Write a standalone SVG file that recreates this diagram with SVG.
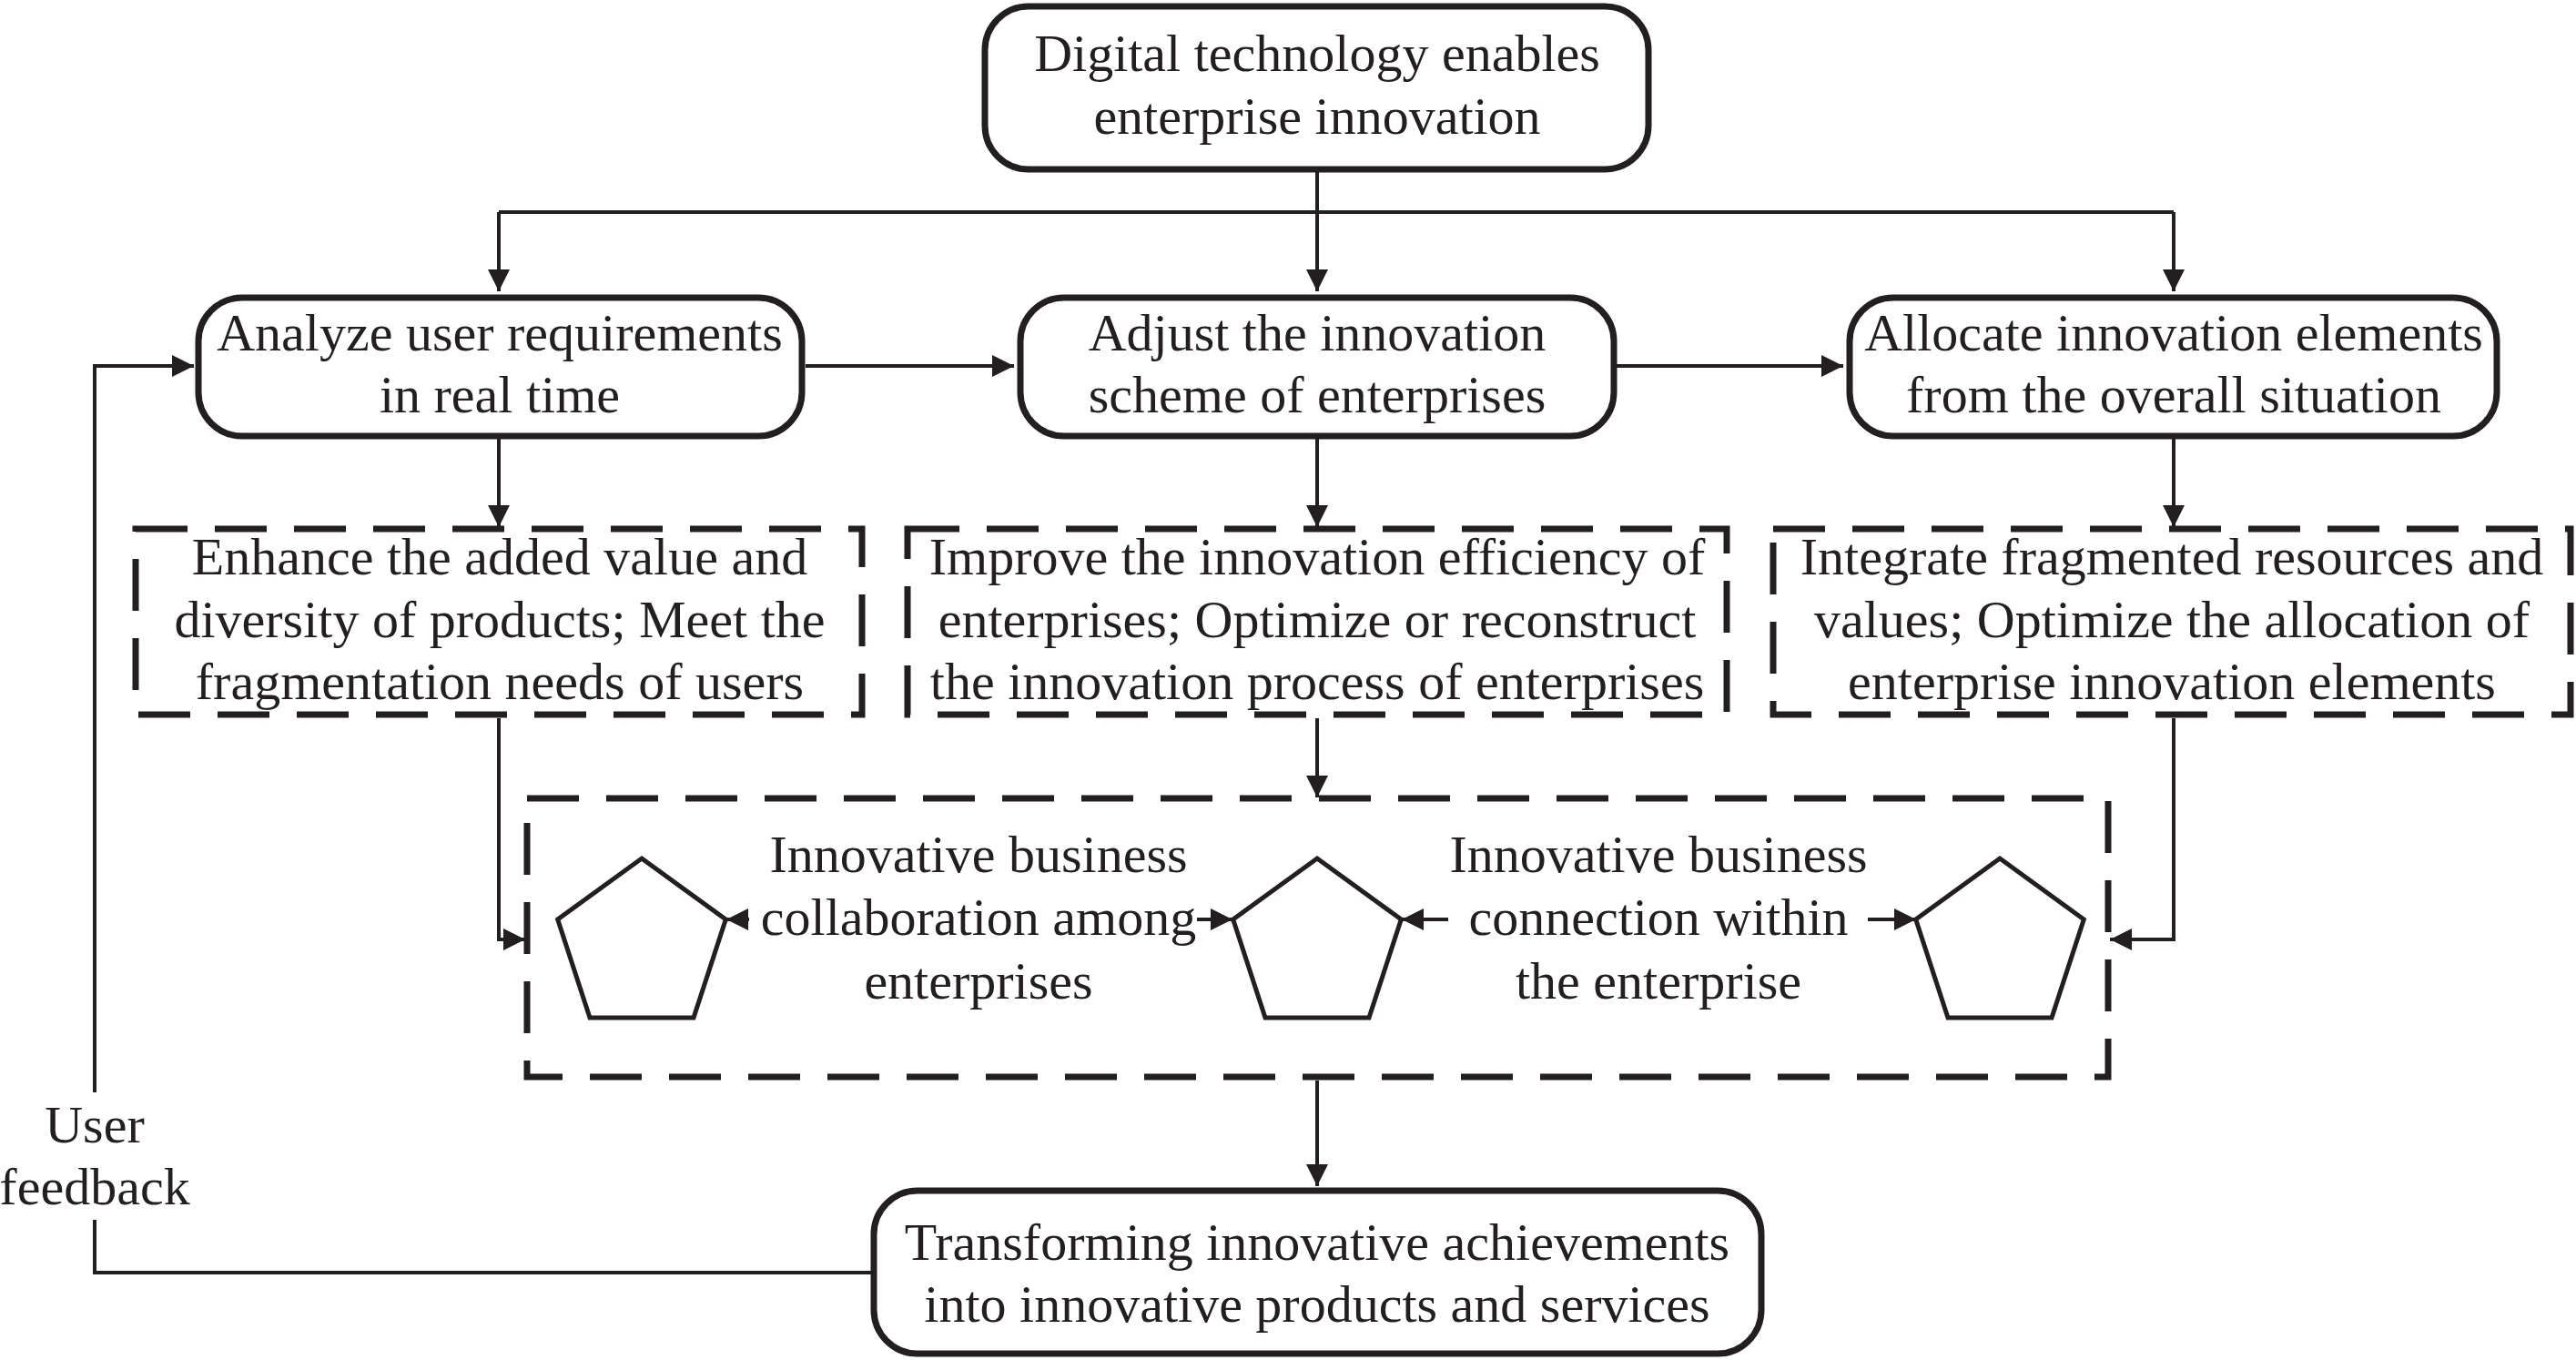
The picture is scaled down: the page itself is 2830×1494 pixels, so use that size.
<svg xmlns="http://www.w3.org/2000/svg" width="2830" height="1494" viewBox="0 0 2830 1494">
<style>
.box{fill:#fff;stroke:#231f20;stroke-width:7}
.dash{fill:none;stroke:#231f20;stroke-width:7;stroke-dasharray:57 30}
.pent{fill:#fff;stroke:#231f20;stroke-width:5;stroke-linejoin:miter}
.ln{fill:none;stroke:#231f20;stroke-width:4}
text{font-family:"Liberation Serif","Times New Roman",serif;font-size:58px;fill:#231f20;text-anchor:middle}
</style>
<defs>
<marker id="ah" viewBox="0 0 24 24" markerWidth="24" markerHeight="24" refX="24" refY="12" orient="auto" markerUnits="userSpaceOnUse">
<path d="M0,0 L24,12 L0,24 z" fill="#231f20"/>
</marker>
</defs>
<rect width="2830" height="1494" fill="#fff"/>

<g id="connectors">
<path class="ln" d="M1447 186 V320" marker-end="url(#ah)"/>
<path class="ln" d="M548 233 H2388"/>
<path class="ln" d="M548 233 V320" marker-end="url(#ah)"/>
<path class="ln" d="M2388 233 V320" marker-end="url(#ah)"/>
<path class="ln" d="M885 402 H1114" marker-end="url(#ah)"/>
<path class="ln" d="M1776 402 H2025" marker-end="url(#ah)"/>
<path class="ln" d="M548 482 V579" marker-end="url(#ah)"/>
<path class="ln" d="M1447 482 V579" marker-end="url(#ah)"/>
<path class="ln" d="M2388 482 V579" marker-end="url(#ah)"/>
<path class="ln" d="M548 789 V1032 H577" marker-end="url(#ah)"/>
<path class="ln" d="M1447 789 V876" marker-end="url(#ah)"/>
<path class="ln" d="M2388 789 V1032 H2318" marker-end="url(#ah)"/>
<path class="ln" d="M1447 1187 V1303" marker-end="url(#ah)"/>
<path class="ln" d="M957 1398 H104 V1340"/>
<path class="ln" d="M104 1200 V402 H213" marker-end="url(#ah)"/>
<path class="ln" d="M823 1010 H798" marker-end="url(#ah)"/>
<path class="ln" d="M1315 1010 H1354" marker-end="url(#ah)"/>
<path class="ln" d="M1591 1010 H1540" marker-end="url(#ah)"/>
<path class="ln" d="M2052 1010 H2105" marker-end="url(#ah)"/>
</g>

<g id="top">
<rect class="box" x="1082" y="7" width="729" height="179" rx="48"/>
<text x="1447" y="78">Digital technology enables</text>
<text x="1447" y="147">enterprise innovation</text>
</g>

<g id="analyze">
<rect class="box" x="218" y="327" width="663" height="152" rx="48"/>
<text x="549" y="385">Analyze user requirements</text>
<text x="549" y="453">in real time</text>
</g>

<g id="adjust">
<rect class="box" x="1121" y="327" width="652" height="152" rx="48"/>
<text x="1447" y="385">Adjust the innovation</text>
<text x="1447" y="453">scheme of enterprises</text>
</g>

<g id="allocate">
<rect class="box" x="2032" y="327" width="711" height="152" rx="48"/>
<text x="2388" y="385">Allocate innovation elements</text>
<text x="2388" y="453">from the overall situation</text>
</g>

<g id="enhance">
<rect class="dash" x="149" y="581" width="798" height="204"/>
<text x="549" y="631">Enhance the added value and</text>
<text x="549" y="700">diversity of products; Meet the</text>
<text x="549" y="768">fragmentation needs of users</text>
</g>

<g id="improve">
<rect class="dash" x="997" y="581" width="900" height="204"/>
<text x="1447" y="631">Improve the innovation efficiency of</text>
<text x="1447" y="700">enterprises; Optimize or reconstruct</text>
<text x="1447" y="768">the innovation process of enterprises</text>
</g>

<g id="integrate">
<rect class="dash" x="1948" y="581" width="876" height="204"/>
<text x="2386" y="631">Integrate fragmented resources and</text>
<text x="2386" y="700">values; Optimize the allocation of</text>
<text x="2386" y="768">enterprise innovation elements</text>
</g>

<g id="network">
<rect class="dash" x="579" y="877" width="1737" height="306"/>
<polygon class="pent" points="705,943 797.3,1010 762,1118 648,1118 612.7,1010"/>
<polygon class="pent" points="1447,943 1539.3,1010 1504,1118 1390,1118 1354.7,1010"/>
<polygon class="pent" points="2197,943 2289.3,1010 2254,1118 2140,1118 2104.7,1010"/>
<text x="1075" y="958">Innovative business</text>
<text x="1075" y="1027">collaboration among</text>
<text x="1075" y="1097">enterprises</text>
<text x="1822" y="958">Innovative business</text>
<text x="1822" y="1027">connection within</text>
<text x="1822" y="1097">the enterprise</text>
</g>

<g id="transform">
<rect class="box" x="960" y="1308" width="975" height="179" rx="48"/>
<text x="1447" y="1384">Transforming innovative achievements</text>
<text x="1447" y="1452">into innovative products and services</text>
</g>

<g id="feedback-label">
<text x="104" y="1255">User</text>
<text x="104" y="1323">feedback</text>
</g>
</svg>
